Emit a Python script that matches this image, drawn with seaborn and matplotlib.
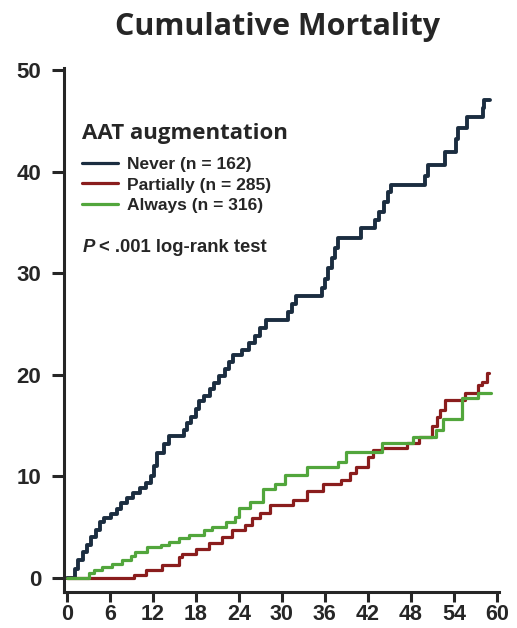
import numpy as np
import pandas as pd
import matplotlib
matplotlib.use("Agg")
import matplotlib.pyplot as plt
import seaborn as sns

# ---- data (months, cumulative mortality %) ----
never_t = [0, 1.2, 1.6, 2.2, 2.8, 3.4, 4.0, 4.6, 5.2, 6.2, 7.0, 7.6, 8.4, 9.2, 10.2, 11.0,
           11.8, 12.2, 12.6, 13.6, 14.2, 16.4, 16.8, 17.3, 18.0, 18.4, 19.2, 20.0, 20.6,
           21.2, 22.0, 22.6, 23.2, 24.4, 25.4, 26.2, 27.0, 27.8, 30.8, 31.4, 32.0, 35.6,
           36.0, 36.4, 37.0, 37.4, 37.8, 41.0, 43.0, 43.6, 44.2, 44.8, 45.2, 50.0, 50.4,
           52.8, 54.3, 54.6, 55.8, 58.0, 58.2, 59.0]
never_v = [0, 0.9, 1.8, 2.5, 3.2, 4.0, 4.7, 5.5, 5.9, 6.3, 6.8, 7.4, 7.9, 8.3, 8.8, 9.3,
           10.0, 11.0, 12.3, 13.2, 14.0, 14.6, 15.2, 15.8, 16.6, 17.4, 17.9, 18.6, 19.2,
           19.9, 20.6, 21.2, 21.9, 22.4, 23.1, 23.8, 24.6, 25.4, 26.2, 27.0, 27.7, 28.5,
           29.4, 30.5, 31.5, 32.5, 33.5, 34.4, 35.2, 36.0, 37.0, 38.0, 38.7, 39.6, 40.6,
           41.9, 43.2, 44.3, 45.4, 46.3, 47.0, 47.0]

partial_t = [0, 9.3, 11.1, 13.3, 15.6, 16.0, 18.0, 19.8, 21.6, 23.0, 24.8, 25.8, 26.9,
             28.3, 31.5, 33.5, 35.7, 38.3, 39.5, 40.4, 42.0, 42.7, 44.0, 47.4, 49.2, 50.9,
             51.6, 52.1, 52.7, 55.6, 57.3, 57.9, 58.6, 58.9]
partial_v = [0, 0.3, 0.8, 1.3, 2.0, 2.3, 2.8, 3.4, 4.0, 4.7, 5.2, 5.9, 6.4,
             7.2, 7.7, 8.5, 9.2, 9.6, 10.3, 10.9, 11.9, 12.6, 12.8, 13.3, 13.9, 14.9,
             15.8, 16.5, 17.5, 18.2, 19.0, 19.3, 20.2, 20.2]

always_t = [0, 3.1, 3.8, 4.9, 6.3, 7.7, 9.0, 9.5, 11.2, 13.2, 14.2, 15.6, 17.0, 19.2, 20.2,
            22.2, 23.4, 24.0, 25.5, 27.3, 29.0, 30.4, 33.5, 37.8, 39.0, 44.0, 48.3, 51.5,
            52.5, 55.2, 57.3, 59.2]
always_v = [0, 0.5, 0.8, 1.1, 1.4, 1.8, 2.1, 2.5, 3.0, 3.2, 3.5, 3.9, 4.2, 4.7, 5.0,
            5.5, 6.0, 6.9, 7.5, 8.7, 9.2, 10.1, 10.9, 11.4, 12.4, 13.3, 13.9, 14.6,
            15.6, 17.7, 18.2, 18.2]

labels = ["Never (n = 162)", "Partially (n = 285)", "Always (n = 316)"]
x_ticks = [0, 6, 12, 18, 24, 30, 36, 42, 48, 54, 60]
y_ticks = [0, 10, 20, 30, 40, 50]

df = pd.concat([
    pd.DataFrame({"month": never_t, "mort": never_v, "group": labels[0]}),
    pd.DataFrame({"month": partial_t, "mort": partial_v, "group": labels[1]}),
    pd.DataFrame({"month": always_t, "mort": always_v, "group": labels[2]}),
], ignore_index=True)

sns.set_style("ticks")
plt.rcParams["font.family"] = ["Liberation Sans", "DejaVu Sans"]

W, H = 517, 628
fig = plt.figure(figsize=(W / 100, H / 100), dpi=100)
ax = fig.add_axes([64 / W, 1 - 592 / H, 435 / W, 524 / H])

palette = {labels[0]: "#1b2d40", labels[1]: "#8a1d1d", labels[2]: "#52a63c"}
sns.lineplot(data=df, x="month", y="mort", hue="group", palette=palette,
             drawstyle="steps-post", estimator=None, sort=False, linewidth=2.3, ax=ax)
ax.lines[0].set_linewidth(2.8)

ax.set_xlim(-0.4, 60.3)
ax.set_ylim(-1.4, 50.2)
ax.set_xticks(x_ticks)
ax.set_yticks(y_ticks)
ax.set_xlabel("")
ax.set_ylabel("")
sns.despine(ax=ax)
for s in ["left", "bottom"]:
    ax.spines[s].set_linewidth(2.2)
ax.tick_params(axis="both", width=2.2)
ax.tick_params(axis="x", length=7.5, pad=1, labelsize=15.5)
ax.tick_params(axis="y", length=8.5, pad=8, labelsize=16)
for lab in ax.get_xticklabels() + ax.get_yticklabels():
    lab.set_fontweight("bold")

leg = ax.legend(title="AAT augmentation", frameon=False, loc="upper left",
                bbox_to_anchor=(82 / W, 1 - 123 / H), bbox_transform=fig.transFigure,
                borderpad=0, borderaxespad=0, handlelength=2.1, handletextpad=0.5,
                labelspacing=0.33, prop={"weight": "bold", "size": 12.5})
leg._legend_box.align = "left"
leg._legend_box.sep = 9
leg.get_title().set_fontproperties({"family": "Open Sans", "weight": "bold", "size": 16})

fig.text(83 / W, 1 - 252 / H, "P", fontsize=13.3, fontweight="bold", fontstyle="italic",
         va="baseline", ha="left")
fig.text(99 / W, 1 - 252 / H, "< .001 log-rank test", fontsize=13.3, fontweight="bold",
         va="baseline", ha="left")

fig.text(278 / W, 1 - 35 / H, "Cumulative Mortality", fontsize=22, fontweight="bold",
         family="Open Sans", ha="center", va="baseline")

fig.savefig("out.png", dpi=100)
